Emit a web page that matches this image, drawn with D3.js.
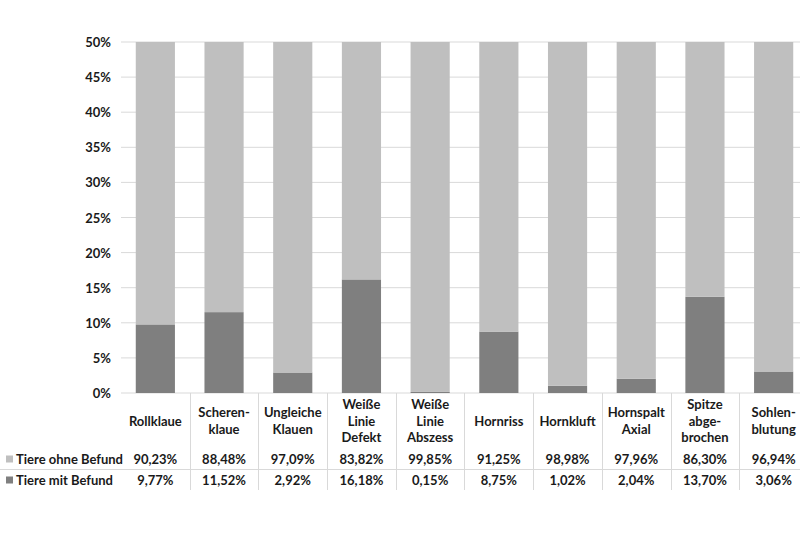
<!DOCTYPE html>
<html>
<head>
<meta charset="utf-8">
<script src="https://cdn.jsdelivr.net/npm/d3@7"></script>
<style>
  body { margin: 0; background: #fff; }
  text { font-family: Lato, "Open Sans", sans-serif; font-weight: bold; fill: #1a1a1a; }
</style>
</head>
<body>
<div id="chart"></div>
<script>
// data
var categories = ["Rollklaue", "Scheren-\nklaue", "Ungleiche\nKlauen", "Weiße\nLinie\nDefekt", "Weiße\nLinie\nAbszess",
    "Hornriss", "Hornkluft", "Hornspalt\nAxial", "Spitze\nabge-\nbrochen", "Sohlen-\nblutung"];
var mitBefund = [9.77, 11.52, 2.92, 16.18, 0.15, 8.75, 1.02, 2.04, 13.70, 3.06];
var ohneBefund = [90.23, 88.48, 97.09, 83.82, 99.85, 91.25, 98.98, 97.96, 86.30, 96.94];
var seriesNames = ["Tiere ohne Befund", "Tiere mit Befund"];
var yTicks = [0, 5, 10, 15, 20, 25, 30, 35, 40, 45, 50];

var colors = {ohne: "#bfbfbf", mit: "#7f7f7f"};
var width = 800, height = 533;
var plot = {left: 121, right: 808, top: 42, bottom: 393};

var svg = d3.select("#chart").append("svg")
    .attr("width", width)
    .attr("height", height);

// scales
var xScale = d3.scaleBand()
    .domain(d3.range(categories.length))
    .range([plot.left, plot.right])
    .paddingInner(0.43)
    .paddingOuter(0.215);
var yScale = d3.scaleLinear()
    .domain([0, 50])
    .range([plot.bottom, plot.top]);

// gridlines
svg.append("g").selectAll("line")
    .data(yTicks)
    .enter().append("line")
    .attr("x1", plot.left)
    .attr("x2", width)
    .attr("y1", function(d) { return yScale(d); })
    .attr("y2", function(d) { return yScale(d); })
    .attr("stroke", "#d9d9d9")
    .attr("stroke-width", 1);

// y axis labels
var yAxis = d3.axisLeft(yScale)
    .tickValues(yTicks)
    .tickSize(0)
    .tickPadding(10)
    .tickFormat(function(d) { return d + "%"; });
var gy = svg.append("g")
    .attr("transform", "translate(" + plot.left + ",0)")
    .call(yAxis);
gy.select(".domain").remove();
gy.selectAll("text")
    .attr("font-size", 13)
    .attr("font-family", "Lato, 'Open Sans', sans-serif")
    .attr("dy", "0.35em");

// clip bars at 50%
svg.append("clipPath").attr("id", "plotClip")
    .append("rect")
    .attr("x", plot.left).attr("y", plot.top)
    .attr("width", plot.right - plot.left)
    .attr("height", plot.bottom - plot.top);

var stackData = categories.map(function(c, i) {
    return {i: i, mit: mitBefund[i], ohne: ohneBefund[i]};
});
var stack = d3.stack().keys(["mit", "ohne"]);
var series = stack(stackData);

svg.append("g")
    .attr("clip-path", "url(#plotClip)")
    .selectAll("g")
    .data(series)
    .enter().append("g")
    .attr("fill", function(d) { return colors[d.key]; })
    .selectAll("rect")
    .data(function(d) { return d; })
    .enter().append("rect")
    .attr("x", function(d) { return xScale(d.data.i); })
    .attr("width", xScale.bandwidth())
    .attr("y", function(d) { return yScale(d[1]); })
    .attr("height", function(d) { return yScale(d[0]) - yScale(d[1]); });

// data table
var step = xScale.step();
var colLeft = function(i) { return xScale(i) - step * xScale.paddingInner() / 2; };
var tableBottom = 490;
var row1Y = 459, row2Y = 480, sepY = 469;

var table = svg.append("g");

table.selectAll("line.vline")
    .data(d3.range(1, categories.length))
    .enter().append("line")
    .attr("class", "vline")
    .attr("x1", function(i) { return Math.round(colLeft(i)) + 0.5; })
    .attr("x2", function(i) { return Math.round(colLeft(i)) + 0.5; })
    .attr("y1", plot.bottom)
    .attr("y2", tableBottom)
    .attr("stroke", "#d9d9d9");

table.append("line")
    .attr("x1", 0).attr("x2", width)
    .attr("y1", sepY + 0.5).attr("y2", sepY + 0.5)
    .attr("stroke", "#d9d9d9");

// category labels
var labelCenter = 421, lineH = 16.5;
table.selectAll("text.cat")
    .data(categories)
    .enter().append("text")
    .attr("class", "cat")
    .attr("text-anchor", "middle")
    .attr("font-size", 13)
    .each(function(d, i) {
        var lines = d.split("\n");
        var cx = xScale(i) + xScale.bandwidth() / 2;
        var y0 = labelCenter - (lines.length - 1) * lineH / 2;
        d3.select(this).selectAll("tspan")
            .data(lines)
            .enter().append("tspan")
            .attr("x", cx)
            .attr("y", function(l, k) { return y0 + k * lineH; })
            .attr("dy", "0.35em")
            .text(function(l) { return l; });
    });

var fmt = function(v) { return v.toFixed(2).replace(".", ",") + "%"; };

[[ohneBefund, row1Y], [mitBefund, row2Y]].forEach(function(r) {
    table.append("g").selectAll("text")
        .data(r[0])
        .enter().append("text")
        .attr("text-anchor", "middle")
        .attr("font-size", 13)
        .attr("x", function(d, i) { return xScale(i) + xScale.bandwidth() / 2; })
        .attr("y", r[1])
        .attr("dy", "0.35em")
        .text(fmt);
});

// row legend
var legend = table.selectAll("g.leg")
    .data(seriesNames)
    .enter().append("g")
    .attr("class", "leg")
    .attr("transform", function(d, i) { return "translate(6," + (i === 0 ? row1Y : row2Y) + ")"; });
legend.append("rect")
    .attr("x", 0).attr("y", -3.5)
    .attr("width", 7).attr("height", 7)
    .attr("fill", function(d, i) { return i === 0 ? colors.ohne : colors.mit; });
legend.append("text")
    .attr("x", 10)
    .attr("dy", "0.35em")
    .attr("font-size", 13)
    .text(function(d) { return d; });
</script>
</body>
</html>
